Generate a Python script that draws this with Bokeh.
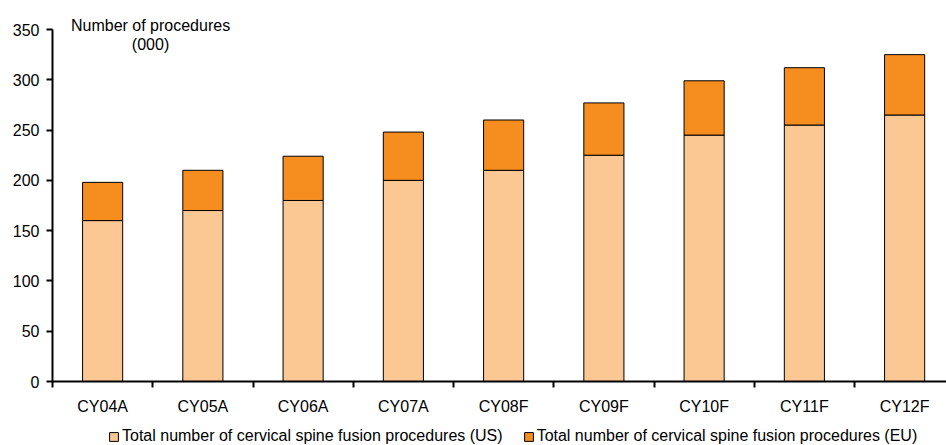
from bokeh.plotting import figure
from bokeh.models import ColumnDataSource, FixedTicker, Label, Legend, LegendItem
from bokeh.embed import file_html
from bokeh.resources import INLINE

categories = ["CY04A", "CY05A", "CY06A", "CY07A", "CY08F", "CY09F", "CY10F", "CY11F", "CY12F"]
us_values = [160, 170, 180, 200, 210, 225, 245, 255, 265]
eu_values = [38, 40, 44, 48, 50, 52, 54, 57, 60]
y_ticks = [0, 50, 100, 150, 200, 250, 300, 350]

FONT = "Liberation Sans"

xs = list(range(len(categories)))
totals = [u + e for u, e in zip(us_values, eu_values)]
src = ColumnDataSource(dict(x=xs, us=us_values, eu=eu_values, total=totals,
                            zero=[0] * len(xs)))

W, H = 946, 445
px_x = 100.25
px_y = 352 / 350.0
x0 = -0.5 - 52 / px_x
x1 = -0.5 + (W - 52) / px_x
y0 = -(H - 381) / px_y
y1 = 381 / px_y

p = figure(width=W, height=H, x_range=(x0, x1), y_range=(y0, y1),
           output_backend="svg", toolbar_location=None, min_border=0,
           min_border_left=0, min_border_right=0, min_border_top=0, min_border_bottom=0)
p.outline_line_color = None
p.xgrid.visible = False
p.ygrid.visible = False

r_us = p.vbar(x="x", bottom="zero", top="us", width=0.4, source=src,
              fill_color="#FBC793", line_color="black", line_width=1)
r_eu = p.vbar(x="x", bottom="us", top="total", width=0.4, source=src,
              fill_color="#F68E1F", line_color="black", line_width=1)

# x axis
xa = p.xaxis[0]
xa.fixed_location = 0
xa.bounds = (-0.5, x1)
xa.ticker = FixedTicker(ticks=xs, minor_ticks=[i - 0.5 for i in xs])
xa.major_label_overrides = {i: c for i, c in enumerate(categories)}
xa.major_tick_out = 0
xa.major_tick_in = 0
xa.minor_tick_out = 6
xa.minor_tick_in = 0
xa.minor_tick_line_width = 2
xa.minor_tick_line_color = "black"
xa.axis_line_width = 2
xa.axis_line_color = "black"
xa.major_label_standoff = 10
xa.major_label_text_font = FONT
xa.major_label_text_font_size = "16px"
xa.major_label_text_color = "black"

# y axis
ya = p.yaxis[0]
ya.fixed_location = -0.5
ya.bounds = (0, 350)
ya.ticker = FixedTicker(ticks=y_ticks)
ya.minor_tick_line_color = None
ya.major_tick_out = 6
ya.major_tick_in = 0
ya.major_tick_line_width = 2
ya.axis_line_width = 2
ya.axis_line_color = "black"
ya.major_label_standoff = 7
ya.major_label_text_font = FONT
ya.major_label_text_font_size = "16px"
ya.major_label_text_color = "black"

p.add_layout(Label(x=0.478, y=354, text="Number of procedures", text_align="center",
                   text_baseline="middle", text_font=FONT, text_font_size="16px",
                   text_color="black"))
p.add_layout(Label(x=0.478, y=335, text="(000)", text_align="center",
                   text_baseline="middle", text_font=FONT, text_font_size="16px",
                   text_color="black"))

legend = Legend(items=[
    LegendItem(label="Total number of cervical spine fusion procedures (US)", renderers=[r_us]),
    LegendItem(label="Total number of cervical spine fusion procedures (EU)", renderers=[r_eu]),
], orientation="horizontal", location=(108, 0))
legend.label_text_font = FONT
legend.label_text_font_size = "16px"
legend.label_text_color = "black"
legend.glyph_width = 11
legend.glyph_height = 11
legend.label_height = 14
legend.label_standoff = 3
legend.spacing = 20
legend.padding = 0
legend.margin = 0
legend.border_line_color = None
legend.background_fill_alpha = 0
p.add_layout(legend, "center")

open("out.html", "w").write(file_html(p, INLINE))
